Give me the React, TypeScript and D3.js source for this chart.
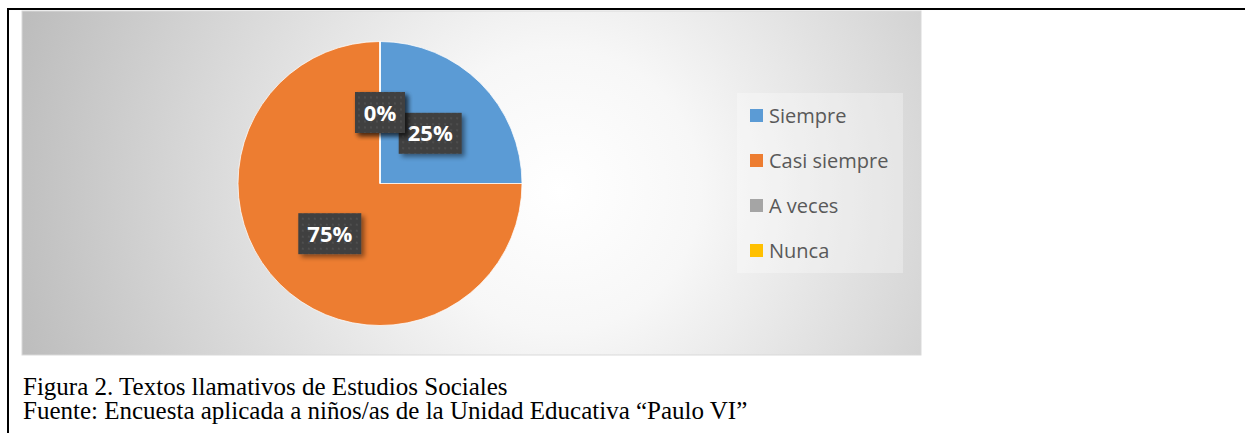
import React from "react";
import * as d3 from "d3";

const categories = ["Siempre", "Casi siempre", "A veces", "Nunca"];
const values = [25, 75, 0, 0];
const labels = ["25%", "75%", "0%", "0%"];
const colors = ["#5B9BD5", "#ED7D31", "#A5A5A5", "#FFC000"];
const captionLines = [
  "Figura 2. Textos llamativos de Estudios Sociales",
  "Fuente: Encuesta aplicada a niños/as de la Unidad Educativa \u201CPaulo VI\u201D",
];

export default function App() {
  const W = 1245, H = 433;
  const cx = 380, cy = 183.5, R = 142;
  const pie = d3.pie<number>().sort(null).value((d) => d);
  const arcs = pie(values);
  const arc = d3.arc<d3.PieArcDatum<number>>().innerRadius(0).outerRadius(R);
  const legendY = d3.scalePoint<string>().domain(categories).range([116, 251]);
  const labelFont = 22;

  return (
    <svg width={W} height={H} style={{ position: "absolute", left: 0, top: 0 }}>
      <defs>
        <radialGradient id="bg" gradientUnits="userSpaceOnUse" cx={560} cy={190} r={560}>
          <stop offset="0" stopColor="#ffffff" />
          <stop offset="0.25" stopColor="#f7f7f7" />
          <stop offset="1" stopColor="#bdbdbd" />
        </radialGradient>
        <pattern id="dots" width="6" height="6" patternUnits="userSpaceOnUse">
          <rect width="6" height="6" fill="#404040" />
          <circle cx="3" cy="3" r="0.9" fill="#555555" />
        </pattern>
        <filter id="shadow" x="-30%" y="-30%" width="160%" height="160%">
          <feGaussianBlur in="SourceAlpha" stdDeviation="2.5" />
          <feOffset dx="3" dy="3" result="b" />
          <feComponentTransfer>
            <feFuncA type="linear" slope="0.45" />
          </feComponentTransfer>
          <feMerge>
            <feMergeNode />
            <feMergeNode in="SourceGraphic" />
          </feMerge>
        </filter>
      </defs>
      <rect x={0} y={0} width={W} height={H} fill="#ffffff" />
      {/* table borders */}
      <line x1={8} y1={9} x2={W} y2={9} stroke="#000" strokeWidth={2} />
      <line x1={8} y1={8} x2={8} y2={H} stroke="#000" strokeWidth={2} />
      {/* chart area */}
      <rect x={22} y={11} width={899} height={344} fill="url(#bg)" stroke="#d9d9d9" strokeWidth={1} />
      <g transform={`translate(${cx},${cy})`}>
        {arcs.map((a, i) => (
          <path key={i} d={arc(a) || ""} fill={colors[i]} stroke="#ffffff" strokeWidth={0.75} />
        ))}
      </g>
      {arcs.map((a, i) => {
        const [x, y] = arc.centroid(a);
        const tw = labels[i].length === 2 ? 32 : 45;
        const bw = tw + 18, bh = 41;
        return (
          <g key={i} transform={`translate(${cx + x},${cy + y})`}>
            <rect x={-bw / 2} y={-bh / 2} width={bw} height={bh} fill="url(#dots)" filter="url(#shadow)" />
            <text
              x={0}
              y={8}
              textAnchor="middle"
              fill="#ffffff"
              fontFamily="'Open Sans', sans-serif"
              fontWeight={700}
              fontSize={labelFont}
            >
              {labels[i]}
            </text>
          </g>
        );
      })}
      {/* legend */}
      <rect x={737} y={93} width={166} height={180} fill="#ffffff" fillOpacity={0.3} />
      {categories.map((c, i) => (
        <g key={c}>
          <rect x={750} y={(legendY(c) as number) - 7} width={13} height={13} fill={colors[i]} />
          <text
            x={769}
            y={(legendY(c) as number) + 7}
            fill="#595959"
            fontFamily="'Open Sans', sans-serif"
            fontSize={20}
          >
            {c}
          </text>
        </g>
      ))}
      {/* caption */}
      {captionLines.map((t, i) => (
        <text
          key={i}
          x={23}
          y={395 + i * 23.5}
          fill="#000"
          fontFamily="'Liberation Serif', 'Times New Roman', serif"
          fontSize={25}
        >
          {t}
        </text>
      ))}
    </svg>
  );
}
